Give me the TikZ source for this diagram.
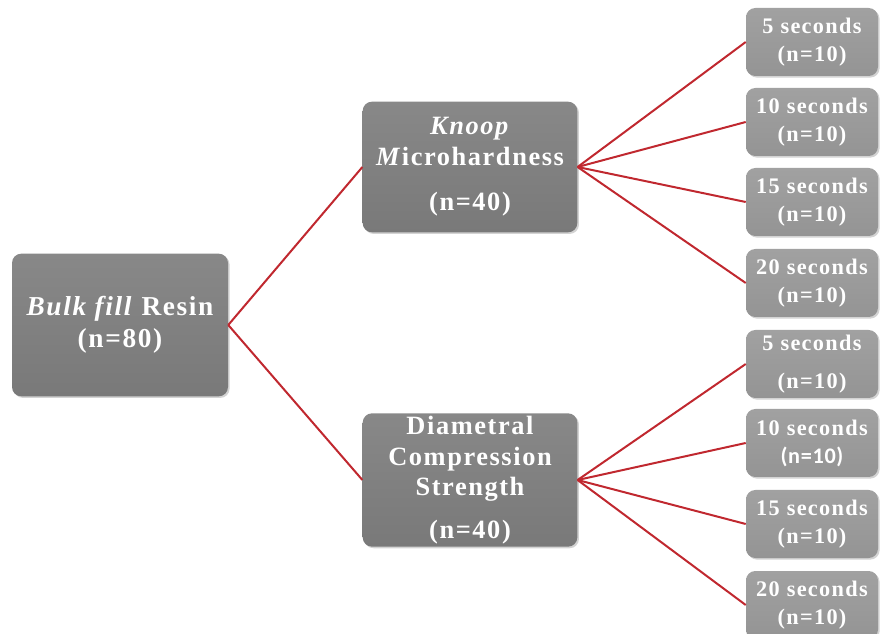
\documentclass[tikz,border=0pt]{standalone}
\usepackage{fontspec}
\setmainfont{Liberation Serif}[LetterSpace=6]
\newfontfamily\calib{Carlito}[LetterSpace=3]
\usetikzlibrary{shadows}
\definecolor{linkred}{HTML}{C0282F}
\definecolor{bigtop}{HTML}{888888}
\definecolor{bigbot}{HTML}{797979}
\definecolor{smalltop}{HTML}{A1A1A1}
\definecolor{smallbot}{HTML}{949494}
\begin{document}
\begin{tikzpicture}[x=0.75pt,y=-0.75pt,
  box/.style={rounded corners=7pt, inner sep=0pt, align=center, text=white,
    drop shadow={opacity=0.35, shadow xshift=1.2pt, shadow yshift=-1.2pt}},
  bigbox/.style={box, top color=bigtop, bottom color=bigbot, minimum width=161pt},
  timebox/.style={box, top color=smalltop, bottom color=smallbot,
    minimum width=99pt, minimum height=51pt,
    font=\fontsize{16.7}{21}\selectfont\bfseries},
  link/.style={linkred, line width=1.5pt}]
\useasboundingbox (0,0) rectangle (882,634);
\clip (0,0) rectangle (882,634);

% Sample
\node[bigbox, minimum width=162pt, minimum height=107pt,
  font=\fontsize{20.5}{24}\selectfont\bfseries] (root) at (120,325)
  {\textit{Bulk fill} Resin\\(n=80)};

% Tests
\node[bigbox, minimum height=98pt, font=\fontsize{19.8}{23}\selectfont\bfseries]
  (knoop) at (470,167) {\textit{Knoop}\\\textit{M}icrohardness\\[11pt](n=40)};
\node[bigbox, minimum height=100pt, font=\fontsize{19.8}{23}\selectfont\bfseries]
  (diam) at (470,480) {Diametral\\Compression\\Strength\\[9pt](n=40)};

% Curing times
\node[timebox] (k5)  at (812,42)  {5 seconds\\(n=10)};
\node[timebox] (k10) at (812,122) {10 seconds\\(n=10)};
\node[timebox] (k15) at (812,202) {15 seconds\\(n=10)};
\node[timebox] (k20) at (812,283) {20 seconds\\(n=10)};
\node[timebox] (d5)  at (812,364) {5 seconds\\[7pt](n=10)};
\node[timebox] (d10) at (812,443) {10 seconds\\{\calib (n=10)}};
\node[timebox] (d15) at (812,524) {15 seconds\\(n=10)};
\node[timebox] (d20) at (812,605) {20 seconds\\(n=10)};

% Connectors
\draw[link] (root.east) -- (knoop.west);
\draw[link] (root.east) -- (diam.west);
\foreach \t in {k5,k10,k15,k20}
  \draw[link] (knoop.east) -- (\t.west);
\foreach \t in {d5,d10,d15,d20}
  \draw[link] (diam.east) -- (\t.west);
\end{tikzpicture}
\end{document}
